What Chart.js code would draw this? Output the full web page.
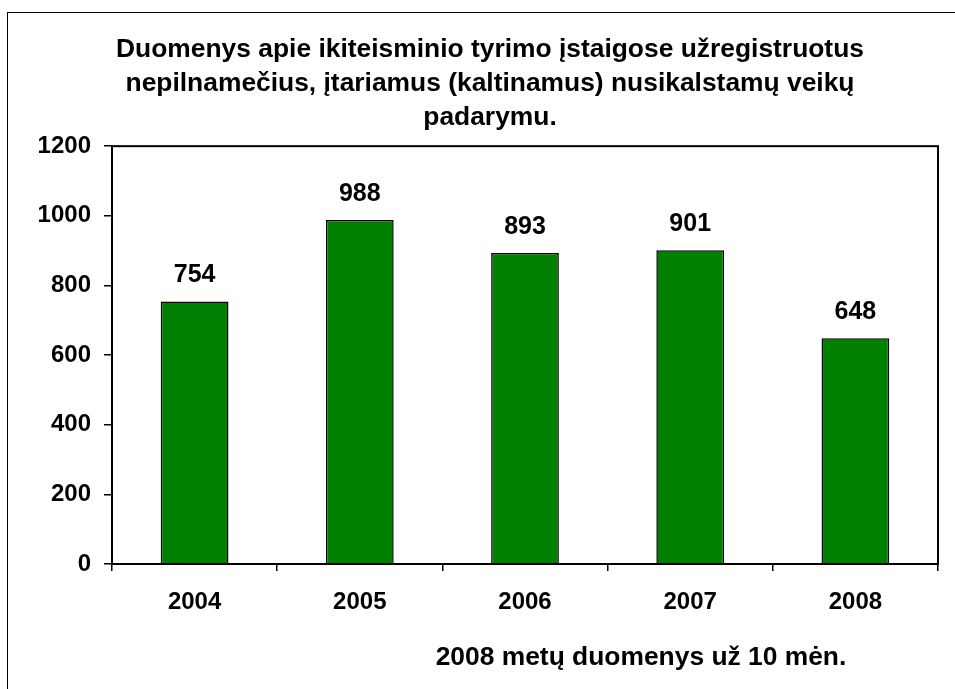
<!DOCTYPE html>
<html>
<head>
<meta charset="utf-8">
<script src="https://cdn.jsdelivr.net/npm/chart.js@4.4.1/dist/chart.umd.min.js"></script>
<style>
  body { margin: 0; background: #fff; }
  #wrap { position: relative; width: 955px; height: 689px; overflow: hidden; }
  #frame { position: absolute; left: 7px; top: 12px; width: 2000px; height: 2000px;
           border-top: 1.5px solid #000; border-left: 1.5px solid #000; }
  #chart { position: absolute; left: 0; top: 0; }
  #note { position: absolute; left: 341px; width: 600px; top: 641px; text-align: center;
          font: bold 26.4px "Liberation Sans", Arial, sans-serif; color: #000; }
</style>
</head>
<body>
<div id="wrap">
  <div id="frame"></div>
  <canvas id="chart" width="955" height="689"></canvas>
  <div id="note">2008 metų duomenys už 10 mėn.</div>
</div>
<script>
const years = ['2004', '2005', '2006', '2007', '2008']
const suspects = [754, 988, 893, 901, 648]
const titleLines = [
    'Duomenys apie ikiteisminio tyrimo įstaigose užregistruotus',
    'nepilnamečius, įtariamus (kaltinamus) nusikalstamų veikų',
    'padarymu.'
]

const fontFamily = '"Liberation Sans", Arial, sans-serif'

// plot frame + value labels over the bars
const framePlugin = {
    id: 'frame',
    afterDraw(chart) {
        const { ctx, chartArea } = chart
        ctx.save()
        ctx.strokeStyle = '#000'
        ctx.lineWidth = 2
        ctx.strokeRect(chartArea.left, chartArea.top, chartArea.right - chartArea.left, chartArea.bottom - chartArea.top)
        ctx.restore()
    }
}

const valueLabels = {
    id: 'valueLabels',
    afterDatasetsDraw(chart) {
        const { ctx } = chart
        const meta = chart.getDatasetMeta(0)
        ctx.save()
        ctx.font = 'bold 25px ' + fontFamily
        ctx.fillStyle = '#000'
        ctx.textAlign = 'center'
        ctx.textBaseline = 'middle'
        meta.data.forEach((bar, i) => {
            ctx.fillText(suspects[i], bar.x, bar.y - 26)
        })
        ctx.restore()
    }
}

new Chart(document.getElementById('chart'), {
    type: 'bar',
    data: {
        labels: years,
        datasets: [{
            data: suspects,
            backgroundColor: '#008000',
            borderColor: '#000',
            borderWidth: 1.5,
            barPercentage: 0.41,
            categoryPercentage: 1
        }]
    },
    options: {
        responsive: false,
        devicePixelRatio: 1,
        animation: false,
        layout: { padding: { left: 25, right: 0, top: 33, bottom: 0 } },
        plugins: {
            legend: { display: false },
            tooltip: { enabled: false },
            title: {
                display: true,
                text: titleLines,
                color: '#000',
                font: { family: fontFamily, size: 26.4, weight: 'bold', lineHeight: 1.29 },
                padding: { top: 0, bottom: 11 }
            }
        },
        scales: {
            x: {
                afterFit: (scale) => { scale.height = 125 },
                grid: {
                    offset: true,
                    drawOnChartArea: false,
                    drawTicks: true,
                    tickLength: 7,
                    color: '#000',
                    lineWidth: 1.5
                },
                border: { color: '#000', width: 2 },
                ticks: {
                    color: '#000',
                    padding: 17,
                    font: { family: fontFamily, size: 24, weight: 'bold' }
                }
            },
            y: {
                min: 0,
                max: 1200,
                afterFit: (scale) => { scale.width = 87 },
                grid: {
                    drawOnChartArea: false,
                    drawTicks: true,
                    tickLength: 8,
                    color: '#000',
                    lineWidth: 1.5
                },
                border: { color: '#000', width: 2 },
                ticks: {
                    stepSize: 200,
                    color: '#000',
                    padding: 13,
                    callback: (v) => String(v),
                    font: { family: fontFamily, size: 24, weight: 'bold' }
                }
            },
            // empty right-hand strip, keeps the title centred like the original
            yRight: {
                position: 'right',
                afterFit: (scale) => { scale.width = 17 },
                grid: { display: false },
                border: { display: false },
                ticks: { display: false }
            }
        }
    },
    plugins: [framePlugin, valueLabels]
})
</script>
</body>
</html>
